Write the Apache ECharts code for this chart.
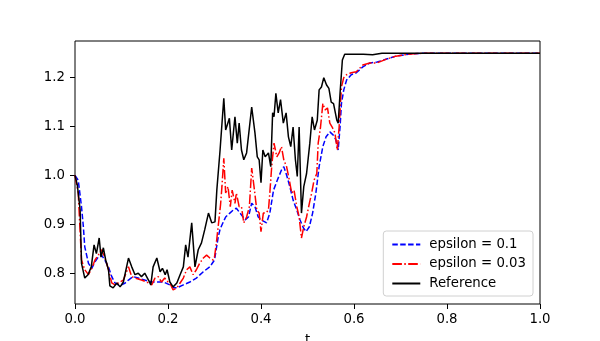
<!DOCTYPE html>
<html>
<head>
<meta charset="utf-8">
<script src="https://cdn.jsdelivr.net/npm/echarts@6/dist/echarts.min.js"></script>
<style>
  html, body { margin: 0; padding: 0; background: #fff; }
  #chart { width: 600px; height: 341px; }
</style>
</head>
<body>
<div id="chart"></div>
<script>
// values
const xTicks = [0, 0.2, 0.4, 0.6, 0.8, 1.0]
const yTicks = [0.8, 0.9, 1.0, 1.1, 1.2]

const tEps1 = [0, 0.007, 0.014, 0.018, 0.021, 0.029, 0.036, 0.043, 0.05, 0.057, 0.064, 0.072, 0.079, 0.086, 0.093, 0.1, 0.108, 0.115, 0.125, 0.136, 0.15, 0.165, 0.176, 0.19, 0.204, 0.211, 0.219, 0.233, 0.247, 0.261, 0.276, 0.29, 0.3, 0.308, 0.312, 0.319, 0.324, 0.333, 0.34, 0.347, 0.355, 0.366, 0.373, 0.38, 0.387, 0.394, 0.401, 0.412, 0.419, 0.427, 0.435, 0.444, 0.449, 0.455, 0.462, 0.469, 0.477, 0.484, 0.491, 0.497, 0.504, 0.511, 0.518, 0.525, 0.533, 0.54, 0.548, 0.555, 0.561, 0.566, 0.57, 0.573, 0.578, 0.584, 0.594, 0.605, 0.619, 0.634, 0.65, 0.67, 0.69, 0.71, 0.73, 0.75, 0.9, 1.0]
const eps1 = [1.0, 0.99, 0.936, 0.895, 0.854, 0.82, 0.81, 0.823, 0.833, 0.837, 0.827, 0.813, 0.793, 0.78, 0.776, 0.776, 0.78, 0.786, 0.793, 0.79, 0.786, 0.782, 0.782, 0.782, 0.776, 0.77, 0.77, 0.776, 0.782, 0.79, 0.803, 0.813, 0.827, 0.874, 0.89, 0.905, 0.915, 0.923, 0.929, 0.933, 0.923, 0.909, 0.915, 0.943, 0.936, 0.915, 0.909, 0.903, 0.923, 0.97, 0.99, 1.011, 1.018, 1.001, 0.977, 0.95, 0.929, 0.909, 0.893, 0.885, 0.895, 0.923, 0.964, 1.018, 1.059, 1.079, 1.089, 1.083, 1.073, 1.052, 1.099, 1.147, 1.175, 1.195, 1.206, 1.21, 1.222, 1.23, 1.232, 1.238, 1.244, 1.247, 1.249, 1.25, 1.25, 1.25]

const tEps03 = [0, 0.007, 0.014, 0.021, 0.029, 0.036, 0.043, 0.05, 0.057, 0.064, 0.072, 0.079, 0.086, 0.093, 0.104, 0.115, 0.122, 0.129, 0.143, 0.154, 0.165, 0.172, 0.179, 0.186, 0.193, 0.2, 0.206, 0.211, 0.219, 0.226, 0.233, 0.24, 0.247, 0.254, 0.261, 0.268, 0.276, 0.283, 0.29, 0.297, 0.3, 0.304, 0.309, 0.313, 0.316, 0.32, 0.324, 0.329, 0.334, 0.338, 0.344, 0.347, 0.353, 0.358, 0.363, 0.369, 0.375, 0.38, 0.385, 0.391, 0.396, 0.4, 0.405, 0.41, 0.416, 0.419, 0.423, 0.428, 0.434, 0.439, 0.444, 0.449, 0.455, 0.461, 0.466, 0.471, 0.477, 0.482, 0.487, 0.492, 0.498, 0.504, 0.509, 0.514, 0.52, 0.523, 0.528, 0.533, 0.538, 0.543, 0.548, 0.553, 0.559, 0.564, 0.568, 0.573, 0.578, 0.584, 0.594, 0.605, 0.619, 0.634, 0.649, 0.67, 0.69, 0.71, 0.73, 0.75, 0.9, 1.0]
const eps03 = [1.0, 0.964, 0.827, 0.807, 0.797, 0.81, 0.827, 0.837, 0.848, 0.833, 0.807, 0.78, 0.776, 0.78, 0.786, 0.813, 0.793, 0.79, 0.786, 0.782, 0.776, 0.79, 0.793, 0.782, 0.79, 0.782, 0.776, 0.766, 0.77, 0.78, 0.79, 0.807, 0.813, 0.797, 0.807, 0.82, 0.831, 0.837, 0.831, 0.827, 0.833, 0.862, 0.905, 0.94, 0.977, 1.035, 0.964, 0.977, 0.936, 0.97, 0.943, 0.964, 0.936, 0.936, 0.903, 0.915, 0.936, 1.015, 0.977, 0.929, 0.923, 0.885, 0.923, 0.923, 0.929, 0.964, 1.018, 1.066, 1.038, 1.046, 1.059, 1.032, 1.018, 0.99, 0.964, 0.97, 0.936, 0.915, 0.872, 0.895, 0.915, 0.943, 0.964, 0.99, 1.004, 1.066, 1.099, 1.147, 1.134, 1.138, 1.107, 1.099, 1.087, 1.052, 1.099, 1.181, 1.2, 1.206, 1.21, 1.212, 1.226, 1.23, 1.23, 1.238, 1.244, 1.247, 1.249, 1.25, 1.25, 1.25]

const tRef = [0, 0.005, 0.011, 0.014, 0.021, 0.028, 0.035, 0.041, 0.046, 0.052, 0.056, 0.061, 0.066, 0.072, 0.075, 0.082, 0.09, 0.097, 0.104, 0.115, 0.122, 0.129, 0.136, 0.143, 0.15, 0.158, 0.163, 0.168, 0.176, 0.183, 0.188, 0.194, 0.198, 0.204, 0.211, 0.219, 0.226, 0.233, 0.238, 0.243, 0.251, 0.258, 0.265, 0.272, 0.279, 0.287, 0.294, 0.301, 0.305, 0.312, 0.32, 0.324, 0.332, 0.337, 0.344, 0.349, 0.353, 0.358, 0.363, 0.369, 0.38, 0.387, 0.392, 0.396, 0.4, 0.404, 0.409, 0.416, 0.421, 0.425, 0.428, 0.432, 0.437, 0.442, 0.448, 0.454, 0.459, 0.464, 0.469, 0.474, 0.478, 0.482, 0.487, 0.492, 0.498, 0.505, 0.51, 0.515, 0.521, 0.525, 0.53, 0.535, 0.541, 0.546, 0.551, 0.556, 0.563, 0.566, 0.57, 0.575, 0.58, 0.6, 0.62, 0.64, 0.66, 0.7, 0.8, 0.9, 1.0]
const refValues = [1.0, 0.98, 0.93, 0.82, 0.79, 0.797, 0.813, 0.858, 0.84, 0.872, 0.833, 0.852, 0.827, 0.807, 0.774, 0.77, 0.78, 0.772, 0.782, 0.831, 0.813, 0.797, 0.8, 0.793, 0.8, 0.786, 0.776, 0.813, 0.831, 0.803, 0.81, 0.797, 0.807, 0.782, 0.772, 0.78, 0.797, 0.813, 0.858, 0.833, 0.903, 0.813, 0.848, 0.862, 0.889, 0.923, 0.903, 0.905, 0.97, 1.052, 1.158, 1.093, 1.117, 1.052, 1.12, 1.066, 1.107, 1.052, 1.032, 1.046, 1.14, 1.087, 1.038, 1.032, 0.985, 1.052, 1.038, 1.046, 1.018, 1.128, 1.12, 1.168, 1.128, 1.155, 1.107, 1.128, 1.079, 1.059, 1.099, 1.032, 0.998, 1.099, 0.923, 0.977, 1.004, 1.066, 1.12, 1.093, 1.113, 1.175, 1.181, 1.2, 1.185, 1.178, 1.15, 1.147, 1.113, 1.107, 1.168, 1.236, 1.248, 1.248, 1.248, 1.247, 1.25, 1.25, 1.25, 1.25, 1.25]

const FONT = 'DejaVu Sans'

function pairs(ts, vs) {
  return ts.map((t, i) => [t, vs[i]])
}

const chart = echarts.init(document.getElementById('chart'), null, { renderer: 'canvas' })

chart.setOption({
  animation: false,
  backgroundColor: '#fff',
  grid: {
    left: 75, right: 60, top: 41, bottom: 37,
    outerBoundsMode: 'none',
    show: true, borderColor: '#000', borderWidth: 1, backgroundColor: 'transparent',
  },
  xAxis: {
    type: 'value',
    min: 0, max: 1,
    name: 't',
    nameLocation: 'middle',
    nameGap: 30,
    nameTextStyle: { fontFamily: FONT, fontSize: 13.3, color: '#000', verticalAlign: 'top' },
    axisLine: { show: false, onZero: false },
    splitLine: { show: false },
    axisTick: { show: true, length: 5, customValues: xTicks, lineStyle: { color: '#000' } },
    axisLabel: {
      customValues: xTicks,
      margin: 9,
      fontFamily: FONT, fontSize: 13.3, color: '#000',
      formatter: (v) => v.toFixed(1),
    },
  },
  yAxis: {
    type: 'value',
    min: 0.737, max: 1.275,
    axisLine: { show: false },
    splitLine: { show: false },
    axisTick: { show: true, length: 5, customValues: yTicks, lineStyle: { color: '#000' } },
    axisLabel: {
      customValues: yTicks,
      margin: 10,
      fontFamily: FONT, fontSize: 13.3, color: '#000',
      formatter: (v) => v.toFixed(1),
    },
  },
  legend: {
    orient: 'vertical',
    right: 67, bottom: 45,
    itemWidth: 28, itemHeight: 14, itemGap: 6.5,
    padding: [7, 7, 6, 8],
    borderColor: '#d0d0d0', borderWidth: 1, borderRadius: 3,
    backgroundColor: 'rgba(255,255,255,0.8)',
    itemStyle: { opacity: 0 },
    textStyle: { fontFamily: FONT, fontSize: 13.3, color: '#000', padding: [0, 0, 0, 4] },
    data: ['epsilon = 0.1', 'epsilon = 0.03', 'Reference'],
  },
  series: [
    {
      name: 'epsilon = 0.1', type: 'line', showSymbol: false, symbol: 'none',
      data: pairs(tEps1, eps1),
      lineStyle: { color: '#0000ff', width: 1.5, type: [5.5, 2.4] },
      itemStyle: { color: '#0000ff' },
    },
    {
      name: 'epsilon = 0.03', type: 'line', showSymbol: false, symbol: 'none',
      data: pairs(tEps03, eps03),
      lineStyle: { color: '#ff0000', width: 1.5, type: [9.6, 2.4, 1.5, 2.4] },
      itemStyle: { color: '#ff0000' },
    },
    {
      name: 'Reference', type: 'line', showSymbol: false, symbol: 'none',
      data: pairs(tRef, refValues),
      lineStyle: { color: '#000000', width: 1.5 },
      itemStyle: { color: '#000000' },
    },
  ],
})
</script>
</body>
</html>
